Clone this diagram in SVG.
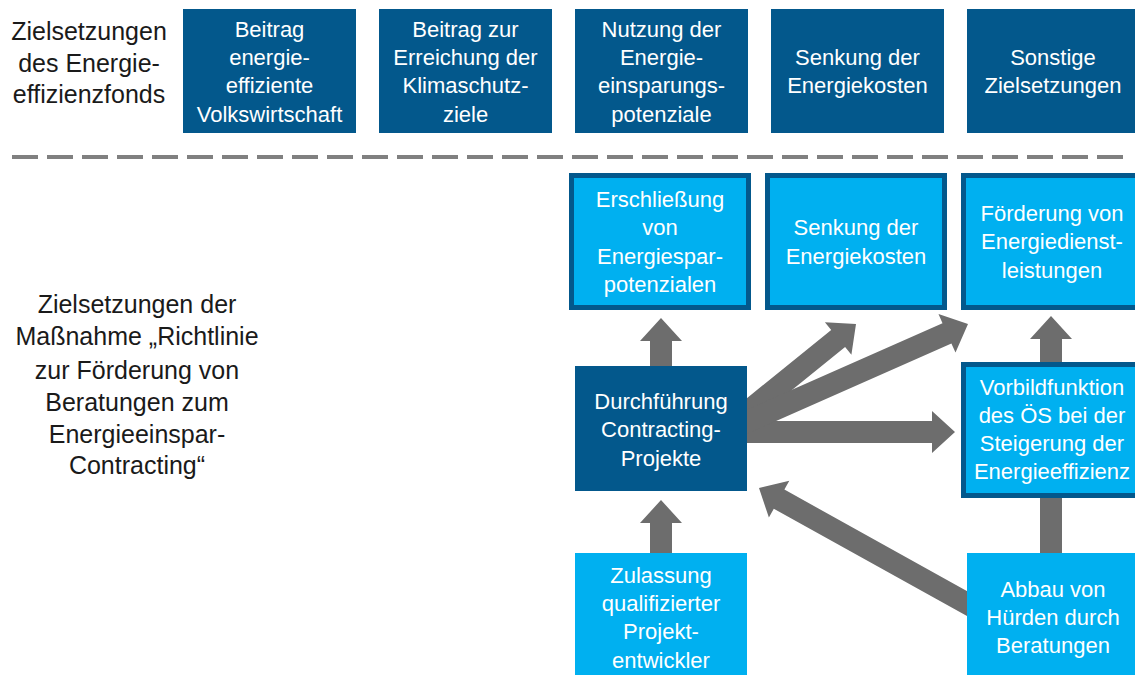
<svg xmlns="http://www.w3.org/2000/svg" width="1135" height="675" viewBox="0 0 1135 675">
<style>
.dark{fill:#03588C}
.light{fill:#00B0F0}
.bord{fill:#00B0F0;stroke:#03588C;stroke-width:5}
.bt{font-family:"Liberation Sans",Arial,sans-serif;font-size:22px;fill:#FFFFFF;text-anchor:middle}
.lt{font-family:"Liberation Sans",Arial,sans-serif;font-size:25px;fill:#1A1A1A;text-anchor:middle}
.arr{fill:#6D6D6D}
</style>
<rect width="1135" height="675" fill="#FFFFFF"/>
<g id="label-fonds">
<text class="lt" x="89" y="40">Zielsetzungen</text>
<text class="lt" x="89" y="72">des Energie-</text>
<text class="lt" x="89" y="103">effizienzfonds</text>
</g>
<g id="label-massnahme">
<text class="lt" x="137" y="313">Zielsetzungen der</text>
<text class="lt" x="137" y="345">Maßnahme „Richtlinie</text>
<text class="lt" x="137" y="379">zur Förderung von</text>
<text class="lt" x="137" y="411">Beratungen zum</text>
<text class="lt" x="137" y="443">Energieeinspar-</text>
<text class="lt" x="137" y="474">Contracting“</text>
</g>
<line id="separator" x1="12" y1="157" x2="1125" y2="157" stroke="#808080" stroke-width="4" stroke-dasharray="26 9"/>
<g id="connectors">
<polygon class="arr" points="672,370 672,341 682,341 661,318 640,341 650,341 650,370"/>
<polygon class="arr" points="672,556 672,523 682,523 661,500 640,523 650,523 650,556"/>
<polygon class="arr" points="1062,365 1062,339 1072,339 1051,316 1030,339 1040,339 1040,365"/>
<rect class="arr" x="1040" y="494" width="22" height="62"/>
<polygon class="arr" points="740,421 932,421 932,411 955,432 932,453 932,443 740,443"/>
<polygon class="arr" points="746.9,426.5 845.1,347 851.4,354.8 856,324 824.9,322.2 831.2,329.9 733.1,409.4"/>
<polygon class="arr" points="746.5,434.1 951.4,343.4 955.5,352.5 968,324 938.5,314.1 942.5,323.3 737.6,413.9"/>
<polygon class="arr" points="980.3,598.4 784.4,489.6 789.3,480.8 759,488 768.9,517.6 773.8,508.8 969.7,617.6"/>
</g>
<g id="top1"><rect class="dark" x="183" y="9" width="173" height="124"/>
<text class="bt" x="269.5" y="37">Beitrag</text><text class="bt" x="269.5" y="65">energie-</text><text class="bt" x="269.5" y="93">effiziente</text><text class="bt" x="269.5" y="122">Volkswirtschaft</text></g>
<g id="top2"><rect class="dark" x="379" y="9" width="173" height="124"/>
<text class="bt" x="465.5" y="37">Beitrag zur</text><text class="bt" x="465.5" y="65">Erreichung der</text><text class="bt" x="465.5" y="93">Klimaschutz-</text><text class="bt" x="465.5" y="122">ziele</text></g>
<g id="top3"><rect class="dark" x="575" y="9" width="173" height="124"/>
<text class="bt" x="661.5" y="37">Nutzung der</text><text class="bt" x="661.5" y="65">Energie-</text><text class="bt" x="661.5" y="93">einsparungs-</text><text class="bt" x="661.5" y="122">potenziale</text></g>
<g id="top4"><rect class="dark" x="771" y="9" width="173" height="124"/>
<text class="bt" x="857.5" y="65">Senkung der</text><text class="bt" x="857.5" y="93">Energiekosten</text></g>
<g id="top5"><rect class="dark" x="967" y="9" width="173" height="124"/>
<text class="bt" x="1053" y="65">Sonstige</text><text class="bt" x="1053" y="93">Zielsetzungen</text></g>
<g id="erschliessung"><rect class="bord" x="571.5" y="175.5" width="177" height="132"/>
<text class="bt" x="660" y="207">Erschließung</text><text class="bt" x="660" y="235">von</text><text class="bt" x="660" y="264">Energiespar-</text><text class="bt" x="660" y="292">potenzialen</text></g>
<g id="senkung"><rect class="bord" x="767.5" y="175.5" width="177" height="132"/>
<text class="bt" x="856" y="235">Senkung der</text><text class="bt" x="856" y="264">Energiekosten</text></g>
<g id="foerderung"><rect class="bord" x="963.5" y="175.5" width="177" height="132"/>
<text class="bt" x="1052" y="221">Förderung von</text><text class="bt" x="1052" y="249">Energiedienst-</text><text class="bt" x="1052" y="278">leistungen</text></g>
<g id="vorbild"><rect class="bord" x="963.5" y="364.5" width="177" height="131"/>
<text class="bt" x="1052" y="395">Vorbildfunktion</text><text class="bt" x="1052" y="423">des ÖS bei der</text><text class="bt" x="1052" y="451">Steigerung der</text><text class="bt" x="1052" y="479">Energieeffizienz</text></g>
<g id="durchfuehrung"><rect class="dark" x="575" y="366" width="172" height="125"/>
<text class="bt" x="661" y="409">Durchführung</text><text class="bt" x="661" y="437">Contracting-</text><text class="bt" x="661" y="466">Projekte</text></g>
<g id="zulassung"><rect class="light" x="575" y="553" width="172" height="125"/>
<text class="bt" x="661" y="583">Zulassung</text><text class="bt" x="661" y="611">qualifizierter</text><text class="bt" x="661" y="639">Projekt-</text><text class="bt" x="661" y="668">entwickler</text></g>
<g id="abbau"><rect class="light" x="967" y="553" width="172" height="125"/>
<text class="bt" x="1053" y="597">Abbau von</text><text class="bt" x="1053" y="625">Hürden durch</text><text class="bt" x="1053" y="653">Beratungen</text></g>
</svg>
